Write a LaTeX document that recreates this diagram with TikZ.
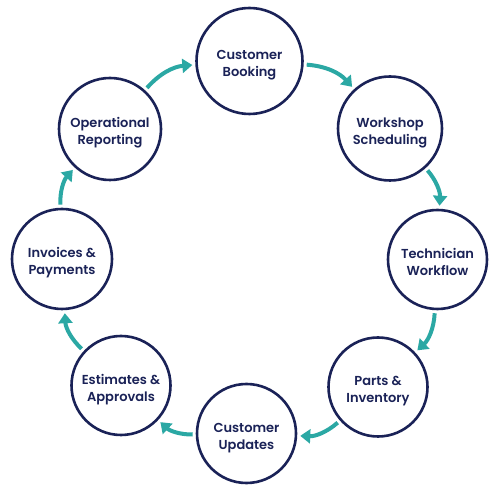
\documentclass[tikz,border=0pt]{standalone}
\usepackage{fontspec}
\setmainfont{Poppins}[BoldFont={Poppins SemiBold}]
\usetikzlibrary{arrows.meta}
\definecolor{navy}{HTML}{1A2257}
\definecolor{teal}{HTML}{2BA8A4}
\newcommand{\twolines}[2]{\raisebox{-4pt}[\height][\depth]{\begin{tabular}{@{}c@{}}#1\\#2\end{tabular}}}
\tikzset{
  stage/.style={circle, draw=navy, line width=2.6pt, fill=white, inner sep=0pt,
    minimum size=#1, align=center, text=navy, font=\bfseries\fontsize{13}{17}\selectfont},
  flow/.style={draw=teal, line width=4pt, bend left=22, shorten <=3pt, shorten >=3pt,
    -{Triangle[length=10pt,width=14pt]}}
}
\begin{document}
\begin{tikzpicture}[x=1pt,y=1pt]
\useasboundingbox (0,0) rectangle (500,500);
\node[stage=106pt] (book)  at (249.5,439)  {\twolines{Customer}{Booking}};
\node[stage=104pt] (work)  at (390,371.5)  {\twolines{Workshop}{Scheduling}};
\node[stage=99pt]  (tech)  at (437.5,240.5){\twolines{Technician}{Workflow}};
\node[stage=99pt]  (parts) at (378,113)    {\twolines{Parts \&}{Inventory}};
\node[stage=99pt]  (upd)   at (246.5,66.5) {\twolines{Customer}{Updates}};
\node[stage=99pt]  (est)   at (121,114.5)  {\twolines{Estimates \&}{Approvals}};
\node[stage=100pt] (inv)   at (62,241)     {\twolines{Invoices \&}{Payments}};
\node[stage=102pt] (op)    at (110,371)    {\twolines{Operational}{Reporting}};
\draw[flow] (op) to (book);
\draw[flow] (book) to (work);
\draw[flow] (work) to (tech);
\draw[flow] (tech) to (parts);
\draw[flow] (parts) to (upd);
\draw[flow] (upd) to (est);
\draw[flow] (est) to (inv);
\draw[flow] (inv) to (op);
\end{tikzpicture}
\end{document}
